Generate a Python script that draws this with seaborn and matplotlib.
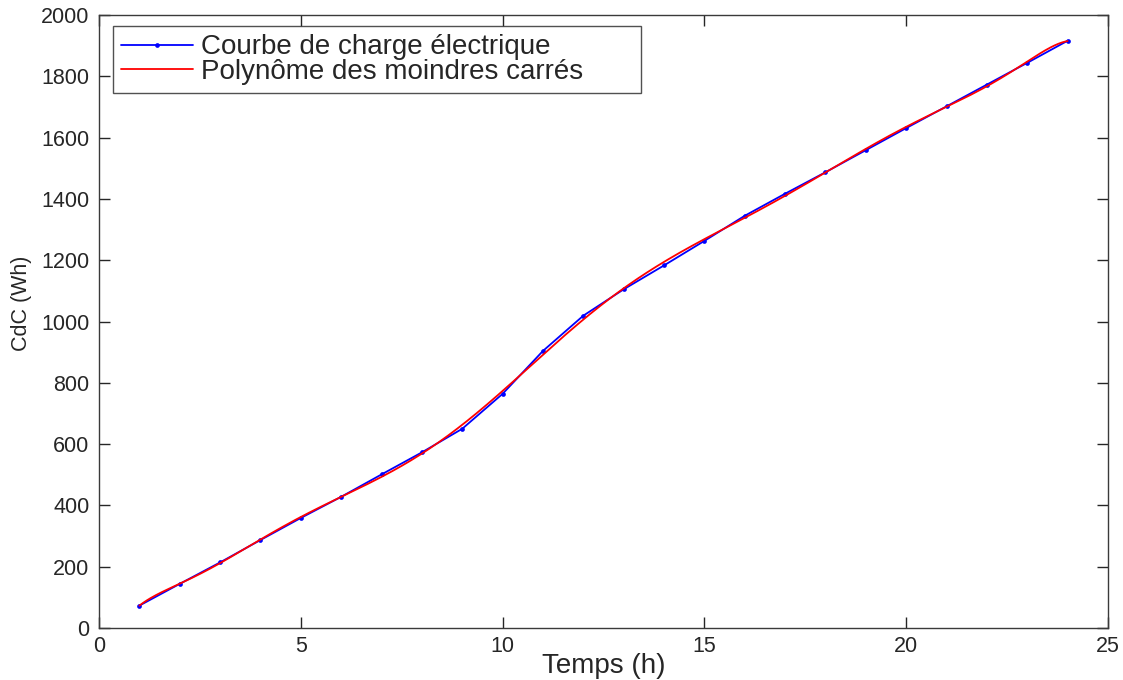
import numpy as np
import pandas as pd
import matplotlib
matplotlib.use("Agg")
import matplotlib.pyplot as plt
import seaborn as sns

# Data
heures = [1, 2, 3, 4, 5, 6, 7, 8, 9, 10, 11, 12,
          13, 14, 15, 16, 17, 18, 19, 20, 21, 22, 23, 24]
cdc_wh = [73, 144, 214, 287, 359, 428, 501, 573, 650, 764, 904, 1019,
          1105, 1183, 1263, 1345, 1417, 1487, 1559, 1631, 1702, 1773, 1844, 1916]
x_ticks = [0, 5, 10, 15, 20, 25]
y_ticks = [0, 200, 400, 600, 800, 1000, 1200, 1400, 1600, 1800, 2000]
label_data = "Courbe de charge électrique"
label_fit = "Polynôme des moindres carrés"
poly_degree = 10

sns.set_theme(style="white")
plt.rcParams['font.family'] = ['Liberation Sans', 'DejaVu Sans']

df = pd.DataFrame({"t": heures, "cdc": cdc_wh})
coef = np.polyfit(df["t"], df["cdc"], poly_degree)
t_fit = np.linspace(min(heures), max(heures), 500)
fit_df = pd.DataFrame({"t": t_fit, "cdc": np.polyval(coef, t_fit)})

fig = plt.figure(figsize=(11.23, 6.80), dpi=100)
ax = fig.add_axes([99/1123, 1 - 628/680, (1108-99)/1123, (628-15)/680])

sns.lineplot(data=df, x="t", y="cdc", ax=ax, color="#0000ff", lw=1.3,
             marker="o", markersize=3.4, markeredgewidth=0, label=label_data)
sns.lineplot(data=fit_df, x="t", y="cdc", ax=ax, color="#ff0000", lw=1.3,
             label=label_fit)

ax.set_xlim(0, 25)
ax.set_ylim(0, 2000)
ax.set_xticks(x_ticks)
ax.set_yticks(y_ticks)
ax.tick_params(direction="in", length=8, width=1, colors="#262626",
               labelsize=15.5, top=True, right=True, bottom=True, left=True,
               pad=6)
ax.tick_params(axis="y", pad=7)
for s in ax.spines.values():
    s.set_color("#3a3a3a")
    s.set_linewidth(1.0)

ax.set_xlabel("Temps (h)", fontsize=20, color="#262626")
ax.xaxis.label.set_va("top")
ax.xaxis.set_label_coords(0.5, -0.04)
ax.set_ylabel("CdC (Wh)", fontsize=15.5, color="#262626")
ax.yaxis.set_label_coords(-0.066, 0.53)

leg_x0 = (112.5 - 99) / 1009
leg_w = (641 - 112.5) / 1009
leg_top = 1 - (26 - 15) / 613
leg_h = (93 - 26) / 613
leg = ax.legend(loc="upper left", fontsize=20, frameon=True, fancybox=False,
                edgecolor="#262626", bbox_to_anchor=(leg_x0, leg_top - leg_h, leg_w, leg_h),
                mode="expand", borderaxespad=0, handlelength=2.6,
                handletextpad=0.3, borderpad=0.3, labelspacing=-0.05)
leg.get_frame().set_linewidth(1.0)

fig.savefig("out.png", dpi=100, facecolor="white")
